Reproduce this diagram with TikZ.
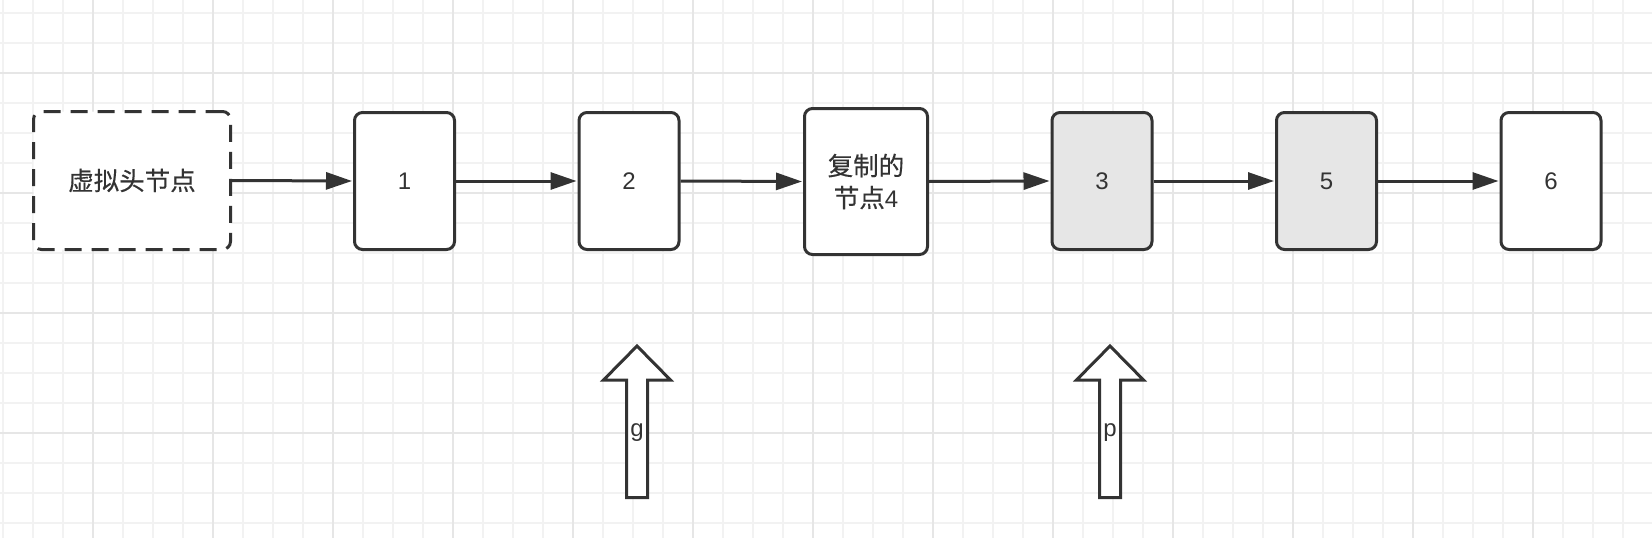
\documentclass[tikz,border=0pt]{standalone}
\usepackage{fontspec}
\setmainfont{Liberation Sans}
\newfontfamily\cjk{Noto Sans CJK SC}[FakeBold=0.3]
\usetikzlibrary{arrows.meta}
\definecolor{ink}{HTML}{333333}
\definecolor{gridminor}{HTML}{F2F2F2}
\definecolor{gridmajor}{HTML}{E6E6E6}
\definecolor{shade}{HTML}{E6E6E6}
\tikzset{
  box/.style={draw=ink, line width=3pt, rounded corners=8pt, fill=white,
    text=ink, font=\fontsize{24}{32}\selectfont, align=center, inner sep=0pt},
  listbox/.style={box, minimum width=100pt, minimum height=137pt},
  dashbox/.style={box, dash pattern=on 17pt off 10pt, minimum width=197pt, minimum height=138pt},
  conn/.style={draw=ink, line width=3pt, -{Triangle[length=26pt,width=17pt]}, shorten >=1pt},
  blockarrow/.style={draw=ink, line width=3pt, fill=white, line join=miter},
  ptrlabel/.style={text=ink, font=\fontsize{24}{26}\selectfont, inner sep=0pt}
}
\begin{document}
\begin{tikzpicture}[x=1pt,y=-1pt]
\useasboundingbox (0,0) rectangle (1652,538);
\fill[white] (0,0) rectangle (1652,538);
% grid
\foreach \i in {0,...,55} {\draw[gridminor, line width=1.5pt] (3+30*\i,0) -- (3+30*\i,538);}
\foreach \j in {0,...,17} {\draw[gridminor, line width=1.5pt] (0,13+30*\j) -- (1652,13+30*\j);}
\foreach \i in {0,...,13} {\draw[gridmajor, line width=1.5pt] (93+120*\i,0) -- (93+120*\i,538);}
\foreach \j in {0,...,3} {\draw[gridmajor, line width=1.5pt] (0,73+120*\j) -- (1652,73+120*\j);}
% nodes
\node[dashbox] (d) at (132,180.5) {\cjk\fontsize{25.5}{32}\selectfont 虚拟头节点};
\node[listbox] (n1) at (404.5,181) {1};
\node[listbox] (n2) at (629,181) {2};
\node[box, minimum width=123pt, minimum height=146pt] (n4) at (866,181.5)
  {{\cjk\fontsize{25.5}{32}\selectfont 复制的}\\{\cjk\fontsize{25.5}{32}\selectfont 节点}4};
\node[listbox, fill=shade] (n3) at (1102,181) {3};
\node[listbox, fill=shade] (n5) at (1326.5,181) {5};
\node[listbox] (n6) at (1551,181) {6};
% connectors
\draw[conn] (d.east) -- (n1.west);
\draw[conn] (n1.east) -- (n2.west);
\draw[conn] (n2.east) -- (n4.west);
\draw[conn] (n4.east) -- (n3.west);
\draw[conn] (n3.east) -- (n5.west);
\draw[conn] (n5.east) -- (n6.west);
% pointer arrows
\foreach \cx in {637,1110} {
  \draw[blockarrow] (\cx,346) -- (\cx+33.5,380) -- (\cx+10.5,380) -- (\cx+10.5,497.5)
     -- (\cx-10.5,497.5) -- (\cx-10.5,380) -- (\cx-33.5,380) -- cycle;
}
\node[ptrlabel] (g) at (637,433) {g};
\node[ptrlabel] (p) at (1110,433) {p};
\end{tikzpicture}
\end{document}
